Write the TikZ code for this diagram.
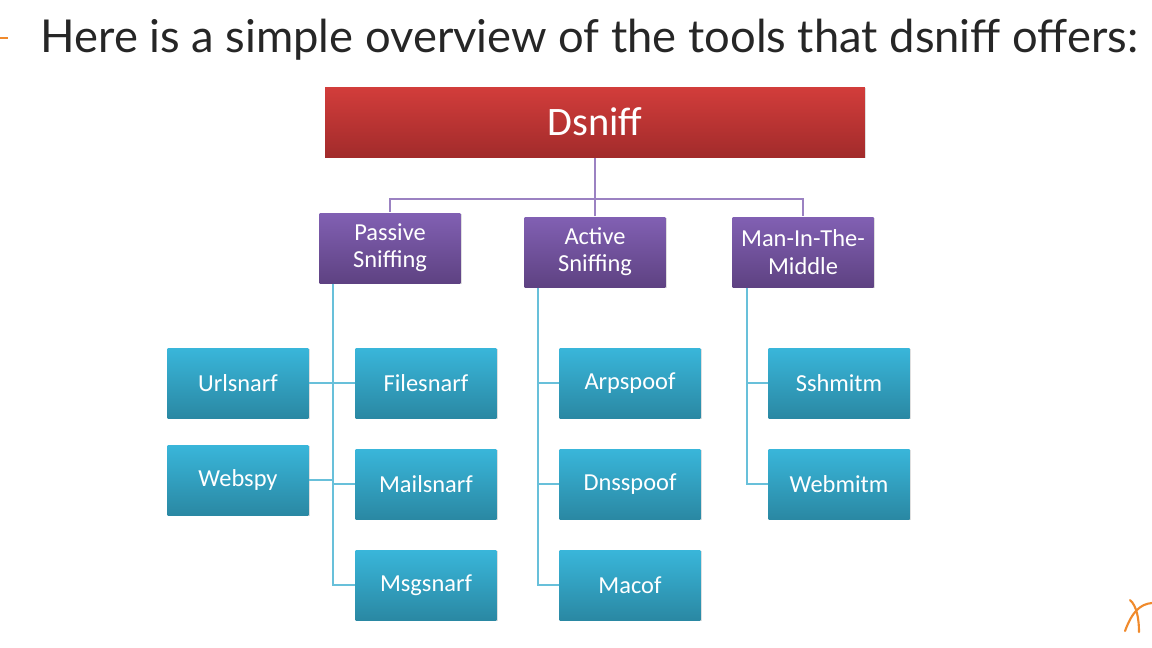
\documentclass[tikz,border=0pt]{standalone}
\usepackage{fontspec}
\setmainfont{Carlito}
\newfontfamily\titlefont{Lato}
\usetikzlibrary{positioning, calc, shadows}

\definecolor{redtop}{HTML}{D23D3B}
\definecolor{redbot}{HTML}{A22B2B}
\definecolor{purtop}{HTML}{8160B3}
\definecolor{purbot}{HTML}{5E4282}
\definecolor{bluetop}{HTML}{39B6DA}
\definecolor{bluebot}{HTML}{2A88A3}
\definecolor{purline}{HTML}{9B82C2}
\definecolor{blueline}{HTML}{68C0DA}
\definecolor{accent}{HTML}{F08A2C}

\begin{document}
\begin{tikzpicture}[x=0.02cm, y=-0.02cm, semithick]
		\tikzstyle{boxbase}=[rectangle, text=white, align=center, inner sep=0pt,
			drop shadow={opacity=0.25, shadow xshift=0.6pt, shadow yshift=-0.8pt}]
		\tikzstyle{rootbox}=[boxbase, top color=redtop, bottom color=redbot,
			minimum width=10.8cm, minimum height=1.4cm, font=\fontsize{23}{26}\selectfont]
		\tikzstyle{groupbox}=[boxbase, top color=purtop, bottom color=purbot,
			minimum width=2.82cm, minimum height=1.4cm, font=\fontsize{13.9}{15.5}\selectfont]
		\tikzstyle{toolbox}=[boxbase, top color=bluetop, bottom color=bluebot,
			minimum width=2.82cm, minimum height=1.4cm, font=\fontsize{13.9}{15.5}\selectfont]
		\tikzstyle{purpleline}=[draw=purline, line width=0.9pt]
		\tikzstyle{blueline}=[draw=blueline, line width=0.9pt]

		\fill[white] (0,0) rectangle (1152,647);
		\useasboundingbox (0,0) rectangle (1152,647);

		% heading
		\draw[accent, line width=1pt] (0,38) -- (8,38);
		\node[anchor=base west, inner sep=0pt, text=black!85, font=\titlefont\fontsize{25.8}{29}\selectfont] (title) at (40,52)
			{Here is a simple overview of the tools that dsniff offers:};

		% top level
		\node[rootbox] (Dsniff) at (595,122) {Dsniff};
		\node[groupbox] (Passive) at (390,248) {Passive\\Sniffing};
		\node[groupbox] (Active)  at (595,252) {Active\\Sniffing};
		\node[groupbox] (MITM)    at (803,252) {Man-In-The-\\Middle};

		% tools
		\node[toolbox] (Urlsnarf)  at (238,383) {Urlsnarf};
		\node[toolbox] (Webspy)    at (238,480) {Webspy};
		\node[toolbox] (Filesnarf) at (426,383) {Filesnarf};
		\node[toolbox] (Mailsnarf) [below=0.6cm of Filesnarf] {Mailsnarf};
		\node[toolbox] (Msgsnarf)  [below=0.6cm of Mailsnarf] {Msgsnarf};
		\node[toolbox] (Arpspoof)  at (630,383) {Arpspoof};
		\node[toolbox] (Dnsspoof)  [below=0.6cm of Arpspoof] {Dnsspoof};
		\node[toolbox] (Macof)     [below=0.6cm of Dnsspoof] {Macof};
		\node[toolbox] (Sshmitm)   at (839,383) {Sshmitm};
		\node[toolbox] (Webmitm)   [below=0.6cm of Sshmitm] {Webmitm};

		% purple tree
		\coordinate (split) at (595,199);
		\path[purpleline] (Dsniff.south) -- (split) -| (Passive.north);
		\path[purpleline] (split) -| (MITM.north);
		\path[purpleline] (split) -- (Active.north);

		% blue trees
		\coordinate (pv) at ($(Passive.south west)+(14,0)$);
		\coordinate (av) at ($(Active.south west)+(14,0)$);
		\coordinate (mv) at ($(MITM.south west)+(15,0)$);
		\path[blueline] (pv) |- (Msgsnarf.west);
		\path[blueline] (pv |- Filesnarf.west) -- (Filesnarf.west);
		\path[blueline] (pv |- Mailsnarf.west) -- (Mailsnarf.west);
		\path[blueline] (Urlsnarf.east) -- (Urlsnarf.east -| pv);
		\path[blueline] (Webspy.east) -- (Webspy.east -| pv);
		\path[blueline] (av) |- (Macof.west);
		\path[blueline] (av |- Arpspoof.west) -- (Arpspoof.west);
		\path[blueline] (av |- Dnsspoof.west) -- (Dnsspoof.west);
		\path[blueline] (mv) |- (Webmitm.west);
		\path[blueline] (mv |- Sshmitm.west) -- (Sshmitm.west);

		% corner mark
		\draw[accent, line width=1.2pt, line cap=round] (1125,631) .. controls (1132,612) and (1140,604) .. (1152,603);
		\draw[accent, line width=1.2pt, line cap=round] (1130,600) .. controls (1137,606) and (1139,620) .. (1139,632);
	\end{tikzpicture}
\end{document}
